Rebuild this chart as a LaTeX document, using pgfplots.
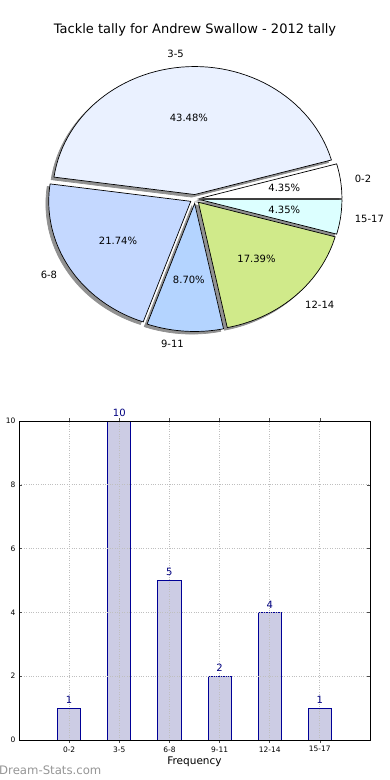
\documentclass[border=0pt]{standalone}
\usepackage{fontspec}
\setmainfont{DejaVu Sans}
\usepackage{pgfplots}
\pgfplotsset{compat=1.18}
\definecolor{c02}{RGB}{255,255,255}
\definecolor{c35}{RGB}{234,241,255}
\definecolor{c68}{RGB}{196,216,255}
\definecolor{c911}{RGB}{180,212,255}
\definecolor{c1214}{RGB}{208,234,138}
\definecolor{c1517}{RGB}{220,255,255}
\definecolor{shadowc}{RGB}{145,145,145}
\definecolor{barfill}{RGB}{204,204,228}
\definecolor{baredge}{RGB}{0,0,150}
\definecolor{lblnavy}{RGB}{0,0,128}
\def\pielab{\fontsize{10bp}{12bp}\selectfont}
\def\total{23}
\def\expl{0.035}
\gdef\cum{0}
\gdef\scum{0}
\newcommand\shadowslice[1]{%
  \pgfmathsetmacro\sa{\scum}%
  \pgfmathsetmacro\sb{\scum+360*#1/\total}%
  \pgfmathsetmacro\sm{(\sa+\sb)/2}%
  \pgfmathsetmacro\dx{\expl*cos(\sm)-0.02}%
  \pgfmathsetmacro\dy{\expl*sin(\sm)-0.02}%
  \edef\doit{%
    \noexpand\addplot[draw=shadowc, line width=0.7bp, fill=shadowc, domain=\sa:\sb, samples=60, variable=\noexpand\t] ({\dx+cos(\noexpand\t)},{\dy+sin(\noexpand\t)}) -- (axis cs:\dx,\dy) -- cycle;
  }%
  \doit
  \xdef\scum{\sb}%
}
\newcommand\drawslice[3]{%
  \pgfmathsetmacro\sa{\cum}%
  \pgfmathsetmacro\sb{\cum+360*#1/\total}%
  \pgfmathsetmacro\sm{(\sa+\sb)/2}%
  \pgfmathsetmacro\dx{\expl*cos(\sm)}%
  \pgfmathsetmacro\dy{\expl*sin(\sm)}%
  \pgfmathsetmacro\px{\dx+0.6*cos(\sm)}%
  \pgfmathsetmacro\py{\dy+0.6*sin(\sm)}%
  \pgfmathsetmacro\lx{\dx+1.1*cos(\sm)}%
  \pgfmathsetmacro\ly{\dy+1.1*sin(\sm)}%
  \pgfmathsetmacro\pct{100*#1/\total}%
  \ifdim\lx pt>0pt \def\anc{west}\else\def\anc{east}\fi
  \edef\doit{%
    \noexpand\addplot[draw=black, line width=0.7bp, fill=#2, domain=\sa:\sb, samples=60, variable=\noexpand\t] ({\dx+cos(\noexpand\t)},{\dy+sin(\noexpand\t)}) -- (axis cs:\dx,\dy) -- cycle;
    \noexpand\node[font=\noexpand\pielab, inner sep=0pt] at (axis cs:\px,\py) {\noexpand\pgfmathprintnumber[fixed,fixed zerofill,precision=2,assume math mode=true]{\pct}\noexpand\%};
    \noexpand\node[font=\noexpand\pielab, anchor=\anc, inner sep=0pt] at (axis cs:\lx,\ly) {#3};
  }%
  \doit
  \xdef\cum{\sb}%
}
\begin{document}
\begin{tikzpicture}
\useasboundingbox (0,0) rectangle (390bp,-780bp);
\clip (0,0) rectangle (390bp,-780bp);
\fill[white] (0,0) rectangle (390bp,-780bp);
\node[font=\fontsize{13bp}{15bp}\selectfont] at (195bp,-30bp) {Tackle tally for Andrew Swallow - 2012 tally};

\begin{axis}[at={(195bp,-199bp)}, anchor=center, x=142bp, y=128bp,
  xmin=-1.4, xmax=1.4, ymin=-1.4, ymax=1.4, hide axis, clip=false]
  \shadowslice{1}
  \shadowslice{10}
  \shadowslice{5}
  \shadowslice{2}
  \shadowslice{4}
  \shadowslice{1}
  \drawslice{1}{c02}{0-2}
  \drawslice{10}{c35}{3-5}
  \drawslice{5}{c68}{6-8}
  \drawslice{2}{c911}{9-11}
  \drawslice{4}{c1214}{12-14}
  \drawslice{1}{c1517}{15-17}
\end{axis}

\begin{axis}[at={(19bp,-740bp)}, anchor=south west, scale only axis,
  width=351bp, height=319bp,
  xmin=-1, xmax=6, ymin=0, ymax=10,
  xtick={0,...,5}, xticklabels={0-2,3-5,6-8,9-11,12-14,15-17},
  ytick={0,2,...,10},
  grid=major, grid style={dotted, draw=gray!50, line width=0.9bp},
  tick style={black!70, line width=0.6bp}, major tick length=3bp, tick align=inside,
  ticklabel style={font=\fontsize{7.5bp}{9bp}\selectfont, /pgf/number format/assume math mode=true},
  /pgf/number format/assume math mode=true,
  xlabel={Frequency}, xlabel style={font=\fontsize{10.5bp}{12bp}\selectfont, yshift=2bp},
  ylabel={Tackle Count}, ylabel style={font=\fontsize{10.5bp}{12bp}\selectfont, text=gray!60},
  axis line style={black, line width=0.8bp},
  axis on top,
  ybar, bar width=0.46,
  nodes near coords,
  nodes near coords style={font=\fontsize{10bp}{12bp}\selectfont, text=lblnavy, inner sep=4bp, /pgf/number format/assume math mode=true},
]
\addplot[fill=barfill, draw=baredge, line width=0.8bp] coordinates {(0,1) (1,10) (2,5) (3,2) (4,4) (5,1)};
\end{axis}

\node[anchor=west, inner sep=0pt, text={rgb,255:red,150;green,150;blue,150}, font=\fontsize{11.7bp}{14bp}\selectfont] at (-1bp,-770bp) {Dream-Stats.com};
\end{tikzpicture}
\end{document}
